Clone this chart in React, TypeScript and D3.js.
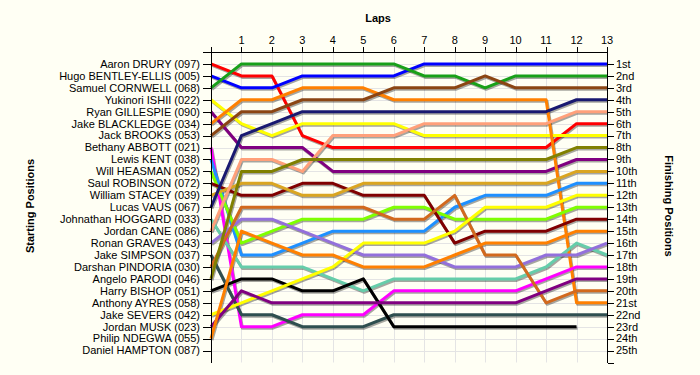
import React, { useEffect, useRef } from "react";
import * as d3 from "d3";

const drivers = [
  "Aaron DRURY (097)", "Hugo BENTLEY-ELLIS (005)", "Samuel CORNWELL (068)", "Yukinori ISHII (022)",
  "Ryan GILLESPIE (090)", "Jake BLACKLEDGE (034)", "Jack BROOKS (053)", "Bethany ABBOTT (021)",
  "Lewis KENT (038)", "Will HEASMAN (052)", "Saul ROBINSON (072)", "William STACEY (039)",
  "Lucas VAUS (067)", "Johnathan HOGGARD (033)", "Jordan CANE (086)", "Ronan GRAVES (043)",
  "Jake SIMPSON (037)", "Darshan PINDORIA (030)", "Angelo PARODI (046)", "Harry BISHOP (051)",
  "Anthony AYRES (058)", "Jake SEVERS (042)", "Jordan MUSK (023)", "Philip NDEGWA (055)",
  "Daniel HAMPTON (087)",
];

const finishLabels = [
  "1st", "2nd", "3rd", "4th", "5th", "6th", "7th", "8th", "9th", "10th", "11th", "12th", "13th",
  "14th", "15th", "16th", "17th", "18th", "19th", "20th", "21st", "22nd", "23rd", "24th", "25th",
];

const laps = [1, 2, 3, 4, 5, 6, 7, 8, 9, 10, 11, 12, 13];

// positions: index 0 = starting position, then laps 1..13
const posDrury = [1, 2, 2, 7, 8, 8, 8, 8, 8, 8, 8, 8, 6, 6];
const posBentley = [2, 3, 3, 2, 2, 2, 2, 1, 1, 1, 1, 1, 1, 1];
const posCornwell = [3, 1, 1, 1, 1, 1, 1, 2, 2, 3, 2, 2, 2, 2];
const posIshii = [4, 6, 7, 6, 6, 6, 6, 7, 7, 7, 7, 7, 7, 7];
const posGillespie = [5, 8, 8, 8, 10, 10, 10, 10, 10, 10, 10, 10, 9, 9];
const posBlackledge = [6, 4, 4, 3, 3, 3, 4, 4, 4, 4, 4, 4, 21, 21];
const posBrooks = [7, 5, 5, 4, 4, 4, 3, 3, 3, 2, 3, 3, 3, 3];
const posAbbott = [8, 23, 23, 22, 22, 22, 20, 20, 20, 20, 20, 19, 18, 18];
const posKent = [9, 17, 17, 16, 15, 15, 15, 15, 13, 12, 12, 12, 11, 11];
const posHeasman = [10, 16, 15, 14, 14, 14, 13, 13, 14, 14, 14, 14, 13, 13];
const posRobinson = [11, 12, 12, 11, 11, 12, 12, 12, 16, 15, 15, 15, 14, 14];
const posStacey = [12, 11, 11, 12, 12, 11, 11, 11, 11, 11, 11, 11, 10, 10];
const posVaus = [13, 7, 6, 5, 5, 5, 5, 5, 5, 5, 5, 5, 4, 4];
const posHoggard = [14, 18, 18, 18, 19, 20, 19, 19, 19, 19, 19, 18, 16, 17];
const posCane = [15, 9, 9, 10, 7, 7, 7, 6, 6, 6, 6, 6, 5, 5];
const posGraves = [16, 14, 14, 15, 16, 17, 17, 17, 18, 18, 18, 17, 17, 16];
const posSimpson = [17, 22, 22, 23, 23, 23, 22, 22, 22, 22, 22, 22, 22, 22];
const posPindoria = [18, 13, 13, 13, 13, 13, 14, 14, 12, 17, 17, 21, 20, 20];
const posParodi = [19, 10, 10, 9, 9, 9, 9, 9, 9, 9, 9, 9, 8, 8];
const posBishop = [20, 19, 19, 20, 20, 19, 23, 23, 23, 23, 23, 23, 23];
const posSevers = [22, 21, 20, 19, 18, 16, 16, 16, 15, 13, 13, 13, 12, 12];
const posMusk = [23, 20, 21, 21, 21, 21, 21, 21, 21, 21, 21, 20, 19, 19];
const posNdegwa = [24, 15, 16, 17, 17, 18, 18, 18, 17, 16, 16, 16, 15, 15];

const series = [
  { name: drivers[0], color: "#FF0000", pos: posDrury },
  { name: drivers[1], color: "#0000FF", pos: posBentley },
  { name: drivers[2], color: "#18A018", pos: posCornwell },
  { name: drivers[3], color: "#FFFF00", pos: posIshii },
  { name: drivers[4], color: "#800080", pos: posGillespie },
  { name: drivers[5], color: "#FF8000", pos: posBlackledge },
  { name: drivers[6], color: "#8B4513", pos: posBrooks },
  { name: drivers[7], color: "#FF00FF", pos: posAbbott },
  { name: drivers[8], color: "#1E90FF", pos: posKent },
  { name: drivers[9], color: "#7FFF00", pos: posHeasman },
  { name: drivers[10], color: "#800000", pos: posRobinson },
  { name: drivers[11], color: "#DAA520", pos: posStacey },
  { name: drivers[12], color: "#191970", pos: posVaus },
  { name: drivers[13], color: "#66CDAA", pos: posHoggard },
  { name: drivers[14], color: "#FFA07A", pos: posCane },
  { name: drivers[15], color: "#9370DB", pos: posGraves },
  { name: drivers[16], color: "#2F4F4F", pos: posSimpson },
  { name: drivers[17], color: "#D2691E", pos: posPindoria },
  { name: drivers[18], color: "#808000", pos: posParodi },
  { name: drivers[19], color: "#000000", pos: posBishop },
  { name: drivers[21], color: "#FFFF00", pos: posSevers },
  { name: drivers[22], color: "#800080", pos: posMusk },
  { name: drivers[23], color: "#FF8000", pos: posNdegwa },
];

export default function App() {
  const ref = useRef<SVGSVGElement>(null);

  useEffect(() => {
    const svg = d3.select(ref.current);
    svg.selectAll("*").remove();
    const W = 700, H = 375;
    const x = d3.scaleLinear().domain([0, 13]).range([211, 607]);
    const y = d3.scaleLinear().domain([0, 26]).range([52, 362.5]);
    const font = "Arial, 'Liberation Sans', sans-serif";

    svg.append("rect").attr("width", W).attr("height", H).attr("fill", "#FFFFF4");

    const grid = svg.append("g").attr("stroke", "#E4E4E4").attr("stroke-width", 1);
    laps.forEach((l) => {
      grid.append("line").attr("x1", Math.round(x(l)) + 0.5).attr("x2", Math.round(x(l)) + 0.5)
        .attr("y1", y(0)).attr("y2", y(26));
    });
    d3.range(1, 26).forEach((p) => {
      grid.append("line").attr("y1", Math.round(y(p)) + 0.5).attr("y2", Math.round(y(p)) + 0.5)
        .attr("x1", x(0)).attr("x2", x(13));
    });

    const line = d3.line<number>().x((_, i) => x(i)).y((d) => y(d));

    const shadows = svg.append("g").attr("transform", "translate(1,1.5)");
    series.forEach((s) => {
      shadows.append("path").attr("d", line(s.pos)).attr("fill", "none")
        .attr("stroke", "#000").attr("stroke-opacity", 0.35).attr("stroke-width", 3)
        .attr("stroke-linejoin", "round");
    });
    const lines = svg.append("g");
    series.forEach((s) => {
      lines.append("path").attr("d", line(s.pos)).attr("fill", "none")
        .attr("stroke", s.color).attr("stroke-width", 3).attr("stroke-linejoin", "round");
    });

    // axes
    const ax = svg.append("g").attr("stroke", "#000").attr("stroke-width", 1).attr("shape-rendering", "crispEdges");
    const x0 = Math.round(x(0)) + 0.5, x13 = Math.round(x(13)) + 0.5;
    ax.append("line").attr("x1", 203).attr("x2", x13).attr("y1", Math.round(y(0)) + 0.5).attr("y2", Math.round(y(0)) + 0.5);
    ax.append("line").attr("x1", x0).attr("x2", x0).attr("y1", 47).attr("y2", y(26));
    ax.append("line").attr("x1", x13).attr("x2", x13).attr("y1", 47).attr("y2", y(26));
    ax.append("line").attr("x1", x13).attr("x2", 614).attr("y1", Math.round(y(26)) + 0.5).attr("y2", Math.round(y(26)) + 0.5);
    laps.forEach((l) => {
      ax.append("line").attr("x1", Math.round(x(l)) + 0.5).attr("x2", Math.round(x(l)) + 0.5)
        .attr("y1", 47).attr("y2", y(0));
    });
    d3.range(1, 26).forEach((p) => {
      const yy = Math.round(y(p)) + 0.5;
      ax.append("line").attr("x1", 203).attr("x2", x0).attr("y1", yy).attr("y2", yy);
      ax.append("line").attr("x1", x13).attr("x2", 614).attr("y1", yy).attr("y2", yy);
    });

    const txt = svg.append("g").attr("font-family", font).attr("font-size", 11).attr("fill", "#000");
    laps.forEach((l) => {
      txt.append("text").attr("x", x(l)).attr("y", 44).attr("text-anchor", "middle").text(String(l));
    });
    drivers.forEach((d, i) => {
      txt.append("text").attr("x", 200).attr("y", y(i + 1)).attr("dy", "0.35em")
        .attr("text-anchor", "end").text(d);
    });
    finishLabels.forEach((d, i) => {
      txt.append("text").attr("x", 616).attr("y", y(i + 1)).attr("dy", "0.35em").text(d);
    });

    const ttl = svg.append("g").attr("font-family", font).attr("font-size", 11)
      .attr("font-weight", "bold").attr("fill", "#000").attr("text-anchor", "middle");
    ttl.append("text").attr("x", 378).attr("y", 22).text("Laps");
    ttl.append("text").attr("transform", "translate(34,206) rotate(-90)").text("Starting Positions");
    ttl.append("text").attr("transform", "translate(665,206) rotate(90)").text("Finishing Positions");
  }, []);

  return (
    <div style={{ position: "absolute", left: 0, top: 0 }}>
      <svg ref={ref} width={700} height={375} style={{ display: "block" }} />
    </div>
  );
}
